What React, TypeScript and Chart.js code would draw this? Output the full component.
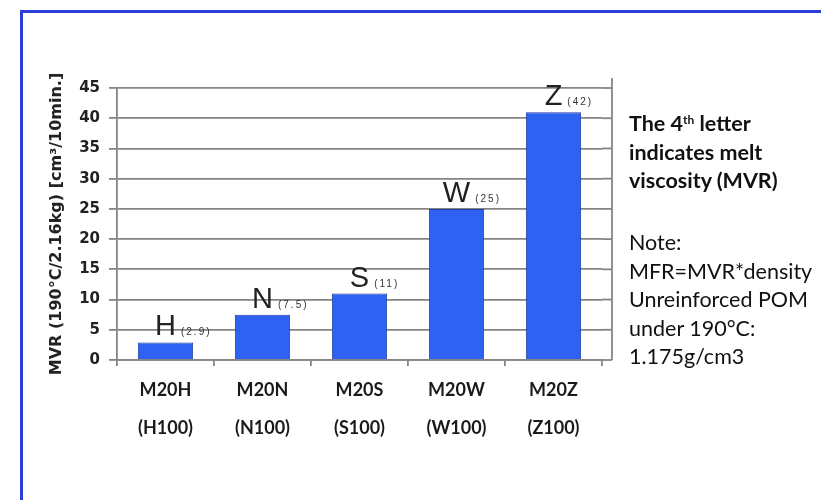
import React, { useEffect, useRef } from "react";
import { Chart, registerables } from "chart.js";

Chart.register(...registerables);

const gradeNames = ["M20H", "M20N", "M20S", "M20W", "M20Z"];
const gradeCodes = ["(H100)", "(N100)", "(S100)", "(W100)", "(Z100)"];
const mvrValues = [2.9, 7.5, 11, 25, 41];
const letterLabels = ["H", "N", "S", "W", "Z"];
const valueNotes = ["(2.9)", "(7.5)", "(11)", "(25)", "(42)"];
const yMin = 0;
const yMax = 45;
const yStep = 5;
const yTitle = "MVR (190°C/2.16kg) [cm³/10min.]";
const noteBold = ["indicates melt", "viscosity (MVR)"];
const noteLines = ["Note:", "MFR=MVR*density", "Unreinforced POM", "under 190°C:", "1.175g/cm3"];

const GRID = "#858585";

const barLabelPlugin = {
  id: "barLabels",
  afterDatasetsDraw(chart: any) {
    const meta = chart.getDatasetMeta(0);
    const ctx = chart.ctx;
    meta.data.forEach((bar: any, i: number) => {
      const { x, y } = bar.getProps(["x", "y"], true);
      ctx.save();
      ctx.font = '29px "Liberation Sans", Arial, sans-serif';
      ctx.fillStyle = "#222222";
      ctx.textAlign = "center";
      ctx.textBaseline = "alphabetic";
      const base = y - 7;
      ctx.fillText(letterLabels[i], x, base);
      const w = ctx.measureText(letterLabels[i]).width;
      ctx.font = '10px "Liberation Sans", Arial, sans-serif';
      ctx.textAlign = "left";
      ctx.fillStyle = "#333333";
      try { (ctx as any).letterSpacing = "2px"; } catch (e) {}
      ctx.fillText(valueNotes[i], x + w / 2 + 5, base);
      ctx.restore();
    });
  },
};

const gridExtendPlugin = {
  id: "gridExtend",
  beforeDatasetsDraw(chart: any) {
    const { ctx, chartArea } = chart;
    const yScale = chart.scales.y;
    const ext = 10;
    ctx.save();
    ctx.strokeStyle = GRID;
    ctx.lineWidth = 1.8;
    for (let v = yMin; v <= yMax; v += yStep) {
      const py = yScale.getPixelForValue(v);
      ctx.beginPath();
      ctx.moveTo(chartArea.right, py);
      ctx.lineTo(chartArea.right + ext, py);
      ctx.stroke();
    }
    ctx.beginPath();
    ctx.moveTo(chartArea.right + ext, chartArea.top - 10);
    ctx.lineTo(chartArea.right + ext, chartArea.bottom);
    ctx.stroke();
    ctx.restore();
  },
};

export default function App() {
  const canvasRef = useRef<HTMLCanvasElement | null>(null);

  useEffect(() => {
    if (!canvasRef.current) return;
    const chart = new Chart(canvasRef.current, {
      type: "bar",
      data: {
        labels: gradeNames.map((n, i) => [n, gradeCodes[i]]),
        datasets: [
          {
            data: mvrValues,
            backgroundColor: "#2f62f2",
            borderColor: "#1f3f9c",
            borderWidth: 1,
            barPercentage: 0.57,
            categoryPercentage: 1,
          },
        ],
      },
      options: {
        animation: false,
        responsive: false,
        devicePixelRatio: 1,
        layout: { padding: { left: 0, top: 88, right: 219, bottom: 0 } },
        plugins: { legend: { display: false }, tooltip: { enabled: false } },
        scales: {
          x: {
            type: "category",
            afterFit: (s: any) => {
              s.height = 140;
            },
            grid: {
              display: true,
              drawOnChartArea: false,
              drawTicks: true,
              tickLength: 6,
              offset: true,
              color: GRID,
              lineWidth: 1.8,
            },
            border: { display: true, color: GRID, width: 1.8 },
            ticks: {
              color: "#1a1a1a",
              font: { family: "Lato, 'Open Sans', sans-serif", size: 18, weight: "bold", lineHeight: 2.11 },
              padding: 5,
              maxRotation: 0,
              autoSkip: false,
            },
          },
          y: {
            min: yMin,
            max: yMax,
            afterFit: (s: any) => {
              s.width = 117;
            },
            grid: {
              color: GRID,
              lineWidth: 1.8,
              tickLength: 8,
              drawTicks: true,
            },
            border: { display: true, color: GRID, width: 1.8 },
            ticks: {
              stepSize: yStep,
              color: "#222222",
              padding: 9,
              font: { family: "'DejaVu Sans', sans-serif", size: 15, weight: "bold" },
            },
            title: {
              display: true,
              text: yTitle,
              color: "#222222",
              font: { family: "'DejaVu Sans', sans-serif", size: 16, weight: "bold" },
              padding: { top: 47, bottom: 0 },
            },
          },
        },
      },
      plugins: [gridExtendPlugin, barLabelPlugin],
    });
    return () => chart.destroy();
  }, []);

  const textFont = "Lato, 'Open Sans', sans-serif";
  const lineStyle = (top: number, bold: boolean): React.CSSProperties => ({
    position: "absolute",
    left: 629,
    top,
    height: 28.5,
    lineHeight: "28.5px",
    fontSize: 21.5,
    fontFamily: textFont,
    fontWeight: bold ? 700 : 400,
    color: "#111111",
    whiteSpace: "nowrap",
  });

  return (
    <div
      style={{
        position: "absolute",
        left: 0,
        top: 0,
        width: 821,
        height: 500,
        background: "#ffffff",
        overflow: "hidden",
      }}
    >
      <div
        style={{
          position: "absolute",
          left: 20,
          top: 10,
          width: 820,
          height: 520,
          borderLeft: "3px solid #2c3ed8",
          borderTop: "3px solid #2c3ed8",
        }}
      />
      <canvas
        ref={canvasRef}
        width={821}
        height={500}
        style={{ position: "absolute", left: 0, top: 0, width: 821, height: 500 }}
      />
      <div style={lineStyle(109, true)}>
        The 4<sup style={{ fontSize: 12, verticalAlign: "top", lineHeight: "22px" }}>th</sup> letter
      </div>
      {noteBold.map((t, i) => (
        <div key={"b" + i} style={lineStyle(109 + 28.5 * (i + 1), true)}>
          {t}
        </div>
      ))}
      {noteLines.map((t, i) => (
        <div key={"n" + i} style={lineStyle(228 + 28.5 * i, false)}>
          {t}
        </div>
      ))}
    </div>
  );
}
